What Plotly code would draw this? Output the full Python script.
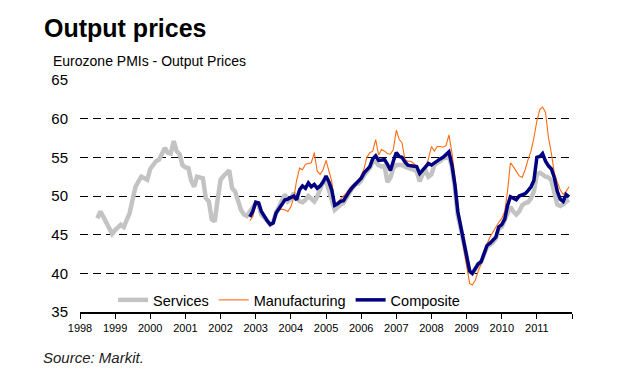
import pandas as pd
import plotly.graph_objects as go

# Monthly PMI output price indices
services_start = "1998-07-01"
services = [47.1, 48.0, 47.3, 46.6, 45.8, 45.1, 45.6, 45.9, 46.3, 46.0, 46.8, 47.8,
            49.5, 51.2, 51.9, 52.5, 52.3, 52.1, 53.5, 54.0, 54.5, 54.7, 55.4, 56.2,
            55.6, 55.5, 57.1, 55.8, 55.4, 54.0, 53.7, 53.6, 52.0, 51.2, 52.5, 52.4,
            52.3, 49.7, 49.3, 47.0, 46.7, 49.5, 52.1, 52.6, 53.0, 53.3, 51.0, 50.6,
            49.4, 48.2, 47.6, 47.4,
            48.0, 48.6, 49.0, 48.8, 47.6, 47.2, 46.8, 46.3, 46.6, 47.9, 48.6, 49.5,
            50.2, 49.3, 49.6, 50.4, 49.8, 49.3, 49.2, 49.5, 50.0, 49.6, 49.3, 49.9,
            50.9, 51.8, 52.0, 50.4, 49.5, 48.2, 48.6, 48.9, 49.1, 49.9, 50.4, 51.0,
            51.5, 51.6, 52.0, 52.7, 53.2, 53.6, 54.5, 54.4, 54.0, 53.8, 53.9, 51.8,
            52.4, 53.6, 54.0, 54.0, 54.0, 53.8, 53.6, 53.5, 53.4, 53.2, 51.9, 52.8,
            53.3, 52.5, 52.8, 54.0, 54.3, 54.5, 54.9, 54.9, 55.1, 53.8, 51.0, 47.5,
            45.8, 44.0, 42.0, 40.2, 40.0, 40.6, 41.2, 41.5, 42.6, 43.4, 43.7, 44.0,
            44.5, 45.8, 46.0, 46.8, 47.8, 48.6, 48.0, 47.6, 48.0, 48.8, 49.1, 49.2,
            49.7, 50.6, 52.8, 53.0, 52.8, 52.5, 52.4, 52.0, 50.5, 48.9, 48.7, 48.9,
            49.3, 49.5]

other_start = "2002-11-01"
manufacturing = [46.8, 47.3, 48.8, 49.0, 48.0, 47.2, 46.6, 46.2, 46.6, 47.6, 48.2, 48.3,
                 48.2, 48.0, 48.6, 49.8, 52.0, 53.6, 53.4, 54.1, 54.2, 54.3, 55.6, 53.2,
                 52.8, 53.4, 54.6, 53.0, 51.9, 48.8, 49.2, 49.5, 50.0, 50.4, 51.0, 51.3,
                 51.6, 52.0, 52.6, 53.6, 55.0, 55.6, 55.8, 57.3, 55.3, 56.0, 55.8, 55.5,
                 55.4, 56.0, 58.5, 57.3, 56.9, 54.7, 54.5, 54.5, 54.2, 53.8, 53.2, 53.1,
                 53.8, 54.8, 56.4, 55.8, 56.4, 56.4, 56.3, 56.5, 57.9, 55.6, 52.5, 48.0,
                 45.5, 43.5, 41.0, 38.7, 38.5, 39.1, 40.3, 41.2, 42.5, 43.8, 44.7, 45.3,
                 46.1, 46.6, 47.1, 48.0, 50.5, 54.3, 53.8, 53.2, 52.6, 52.4, 53.4, 54.7,
                 55.8, 57.5, 59.7, 61.2, 61.5, 60.8, 57.6, 55.5, 53.0, 51.8, 50.8, 50.2,
                 50.6, 51.2]

composite = [47.3, 48.0, 49.2, 49.1, 48.0, 47.3, 46.8, 46.3, 46.5, 47.8, 48.4, 48.8,
             49.5, 49.6, 49.8, 50.0, 49.5, 50.8, 51.3, 51.0, 51.7, 51.2, 51.5, 51.0,
             51.3, 51.8, 52.6, 51.8, 50.8, 48.8, 49.0, 49.3, 49.4, 50.1, 50.6, 51.1,
             51.5, 51.8, 52.3, 53.0, 53.4, 53.8, 54.8, 55.2, 54.6, 54.6, 54.7, 54.1,
             53.3, 54.5, 55.6, 55.1, 55.0, 54.4, 54.0, 53.9, 53.9, 53.8, 52.9, 53.3,
             53.7, 54.2, 54.0, 54.3, 54.5, 54.8, 55.0, 55.3, 55.7, 54.0, 51.5, 48.0,
             46.0, 44.2, 42.1, 40.3, 40.0, 40.6, 41.2, 41.5, 42.7, 43.6, 43.9, 44.3,
             44.7, 46.0, 46.3, 47.0, 48.7, 49.9, 49.7, 49.5, 50.0, 50.2, 50.3, 50.7,
             51.2, 52.0, 55.0, 55.1, 55.5, 54.5, 53.9, 53.5, 52.4, 50.6, 49.6, 49.3,
             50.2, 49.9]

year_ticks = [str(y) for y in range(1998, 2013)]
year_labels = [str(y) for y in range(1998, 2012)] + [""]
y_ticks = [35, 40, 45, 50, 55, 60, 65]

services_dates = pd.date_range(services_start, periods=len(services), freq="MS")
man_dates = pd.date_range(other_start, periods=len(manufacturing), freq="MS")
comp_dates = pd.date_range(other_start, periods=len(composite), freq="MS")

FONT = "Arial, Liberation Sans, sans-serif"

fig = go.Figure()
fig.add_trace(go.Scatter(x=services_dates, y=services, mode="lines", name="Services",
                         line=dict(color="#c3c3c3", width=4.5)))
fig.add_trace(go.Scatter(x=man_dates, y=manufacturing, mode="lines", name="Manufacturing",
                         line=dict(color="#ff6a13", width=1.1)))
fig.add_trace(go.Scatter(x=comp_dates, y=composite, mode="lines", name="Composite",
                         line=dict(color="#000080", width=3.5)))

# The page body has an 8px margin, so the figure is 8px smaller and margins shifted.
fig.update_layout(
    width=613, height=373,
    margin=dict(l=72, r=49, t=72, b=69),
    paper_bgcolor="white", plot_bgcolor="white",
    font=dict(family=FONT, color="black", size=13),
    showlegend=True,
    legend=dict(orientation="h", x=0.425, xanchor="center", y=0.052, yanchor="middle",
                bgcolor="rgba(0,0,0,0)", font=dict(size=14.5, family=FONT),
                tracegroupgap=0),
    xaxis=dict(
        type="date",
        range=[year_ticks[0] + "-01-01", year_ticks[-1] + "-01-01"],
        tickvals=[y + "-01-01" for y in year_ticks],
        ticktext=year_labels,
        ticks="outside", ticklen=5, tickcolor="black", tickwidth=1,
        showline=True, linecolor="black", linewidth=1.5,
        showgrid=False, zeroline=False,
        tickfont=dict(size=11, family=FONT),
    ),
    yaxis=dict(
        range=[35, 65],
        tickvals=y_ticks,
        showgrid=True, gridcolor="black", gridwidth=1, griddash="8px,5px",
        zeroline=False, showline=False, ticks="",
        tickfont=dict(size=15, family=FONT),
        ticklabelstandoff=11,
    ),
)

# plot area spans page x 80..572 and y 80..312
def px_x(x):
    return (x - 80) / 492

def px_y(y):
    return (312 - y) / 232

fig.add_annotation(text="<b>Output prices</b>", xref="paper", yref="paper",
                   x=px_x(42), y=px_y(28), xanchor="left", yanchor="middle",
                   showarrow=False, font=dict(size=25, family=FONT, color="black"))
fig.add_annotation(text="Eurozone PMIs - Output Prices", xref="paper", yref="paper",
                   x=px_x(51), y=px_y(61), xanchor="left", yanchor="middle",
                   showarrow=False, font=dict(size=14, family=FONT, color="black"))
fig.add_annotation(text="<i>Source: Markit.</i>", xref="paper", yref="paper",
                   x=px_x(41), y=px_y(357), xanchor="left", yanchor="middle",
                   showarrow=False, font=dict(size=15, family=FONT, color="#222222"))

fig.write_html("out.html")
